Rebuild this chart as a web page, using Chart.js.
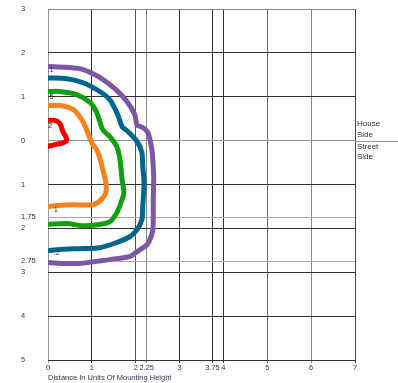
<!DOCTYPE html>
<html>
<head>
<meta charset="utf-8">
<script src="https://cdn.jsdelivr.net/npm/chart.js@4"></script>
<style>
  html, body { margin: 0; padding: 0; background: #fff; }
  #wrap { width: 398px; height: 383px; }
</style>
</head>
<body>
<div id="wrap"><canvas id="isoChart"></canvas></div>
<script>
// tick positions (distance in mounting heights; house side positive)
const xTicks = [0, 1, 2, 2.25, 3, 3.75, 4, 5, 6, 7];
const yTicks = [3, 2, 1, 0, -1, -1.75, -2, -2.75, -3, -4, -5];

// isofootcandle contours
const fc01X = [0, 0.43, 0.80, 1.18, 1.55, 1.80, 1.98, 2.03, 2.16, 2.28, 2.37, 2.39, 2.41, 2.40, 2.39, 2.32, 2.26, 2.03, 1.87, 1.57, 1.03, 0.73, 0.43, 0];
const fc01Y = [1.69, 1.67, 1.62, 1.44, 1.16, 0.89, 0.59, 0.36, 0.30, 0.18, -0.21, -0.43, -0.85, -1.34, -2.03, -2.26, -2.37, -2.53, -2.64, -2.69, -2.76, -2.80, -2.80, -2.78];

const fc02X = [0, 0.43, 0.80, 1.18, 1.41, 1.59, 1.69, 1.82, 2.03, 2.14, 2.16, 2.19, 2.16, 2.14, 2.03, 1.87, 1.57, 1.18, 0.80, 0.27, 0];
const fc02Y = [1.43, 1.41, 1.32, 1.12, 0.93, 0.59, 0.32, 0.21, -0.02, -0.27, -0.59, -0.96, -1.50, -1.80, -2.03, -2.19, -2.32, -2.44, -2.46, -2.48, -2.51];

const fc05X = [0, 0.27, 0.65, 0.96, 1.11, 1.25, 1.41, 1.57, 1.64, 1.69, 1.73, 1.69, 1.57, 1.41, 1.18, 0.80, 0.43, 0];
const fc05Y = [1.12, 1.12, 1.05, 0.87, 0.64, 0.25, 0.09, -0.14, -0.43, -0.89, -1.18, -1.34, -1.64, -1.85, -1.91, -1.94, -1.89, -1.91];

const fc1X = [0, 0.27, 0.57, 0.77, 0.88, 1.00, 1.11, 1.18, 1.25, 1.32, 1.32, 1.22, 1.03, 0.57, 0.20, 0];
const fc1Y = [0.80, 0.80, 0.71, 0.48, 0.25, -0.05, -0.21, -0.39, -0.66, -0.96, -1.18, -1.34, -1.46, -1.46, -1.48, -1.50];

const fc2X = [0, 0.16, 0.27, 0.34, 0.43, 0.34, 0.16, 0];
const fc2Y = [0.46, 0.46, 0.39, 0.21, 0.02, -0.05, -0.09, -0.13];

// contour value labels
const labelText = ['.1', '.2', '.5', '1', '2'];
const labelX = [0.06, 0.20, 0.06, 0.18, 0.05];
const labelY = [1.62, -2.57, 1.00, -1.59, 0.34];

const xGridColors = { 0: '#999', 1: '#333', 2: '#555', 2.25: '#888', 3: '#333', 3.75: '#333', 4: '#333', 5: '#666', 6: '#888', 7: '#444' };
const yGridColors = { 3: '#888', 2: '#333', 1: '#333', 0: '#999', '-1': '#333', '-1.75': '#aaa', '-2': '#333', '-2.75': '#aaa', '-3': '#333', '-4': '#333', '-5': '#333' };

const toPoints = (xs, ys) => xs.map((x, i) => ({ x, y: ys[i] }));

const contour = (xs, ys, color) => ({
    data: toPoints(xs, ys),
    showLine: true,
    borderColor: color,
    borderWidth: 5,
    borderCapStyle: 'round',
    borderJoinStyle: 'round',
    pointRadius: 0,
    tension: 0.3,
    fill: false,
});

const sideLabels = {
    id: 'sideLabels',
    afterDatasetsDraw(chart) {
        const { ctx, chartArea, scales: { x, y } } = chart;
        ctx.save();
        // zero line runs on past the plot to the edge
        const y0 = Math.round(y.getPixelForValue(0)) + 0.5;
        ctx.strokeStyle = '#999';
        ctx.lineWidth = 1;
        ctx.beginPath();
        ctx.moveTo(chartArea.right, y0);
        ctx.lineTo(chart.width, y0);
        ctx.stroke();

        ctx.fillStyle = '#333';
        ctx.font = '8px "Liberation Sans", Arial, sans-serif';
        ctx.textAlign = 'left';
        ctx.textBaseline = 'middle';
        const tx = chartArea.right + 2;
        ctx.fillText('House', tx, y0 - 18);
        ctx.fillText('Side', tx, y0 - 7);
        ctx.fillText('Street', tx, y0 + 5);
        ctx.fillText('Side', tx, y0 + 15);

        ctx.font = '7.5px "Liberation Sans", Arial, sans-serif';
        ctx.textAlign = 'center';
        labelText.forEach((t, i) => {
            ctx.fillText(t, x.getPixelForValue(labelX[i]), y.getPixelForValue(labelY[i]));
        });
        ctx.restore();
    }
};

new Chart(document.getElementById('isoChart'), {
    type: 'scatter',
    data: {
        datasets: [
            contour(fc01X, fc01Y, '#7e56a6'),
            contour(fc02X, fc02Y, '#00658f'),
            contour(fc05X, fc05Y, '#10a010'),
            contour(fc1X, fc1Y, '#f5821f'),
            contour(fc2X, fc2Y, '#f00000'),
        ],
    },
    options: {
        responsive: true,
        maintainAspectRatio: false,
        animation: false,
        layout: { padding: { left: 21, top: 9, right: 43, bottom: 0 } },
        plugins: {
            legend: { display: false },
            tooltip: { enabled: false },
        },
        scales: {
            x: {
                type: 'linear',
                min: 0,
                max: 7,
                afterBuildTicks: (scale) => { scale.ticks = xTicks.map(v => ({ value: v })); },
                afterFit: (scale) => { scale.height = 23; },
                border: { display: false },
                grid: {
                    color: (ctx) => xGridColors[ctx.tick.value] || '#333',
                    tickLength: 3,
                },
                ticks: {
                    padding: 0,
                    maxRotation: 0,
                    autoSkip: false,
                    color: '#2b3550',
                    font: { family: '"Liberation Sans", Arial, sans-serif', size: 7.5 },
                    callback: (v) => String(v),
                },
                title: {
                    display: true,
                    text: 'Distance In Units Of Mounting Height',
                    align: 'start',
                    color: '#2b3550',
                    padding: { top: 0, bottom: 0.5 },
                    font: { family: '"Liberation Sans", Arial, sans-serif', size: 7.5 },
                },
            },
            y: {
                type: 'linear',
                min: -5,
                max: 3,
                afterBuildTicks: (scale) => { scale.ticks = yTicks.map(v => ({ value: v })); },
                afterFit: (scale) => { scale.width = 27; },
                border: { display: false },
                grid: {
                    color: (ctx) => yGridColors[ctx.tick.value] || '#333',
                    drawTicks: false,
                },
                ticks: {
                    crossAlign: 'far',
                    autoSkip: false,
                    color: '#333',
                    font: { family: '"Liberation Sans", Arial, sans-serif', size: 7.5 },
                    callback: (v) => String(Math.abs(v)),
                },
            },
        },
    },
    plugins: [sideLabels],
});
</script>
</body>
</html>
